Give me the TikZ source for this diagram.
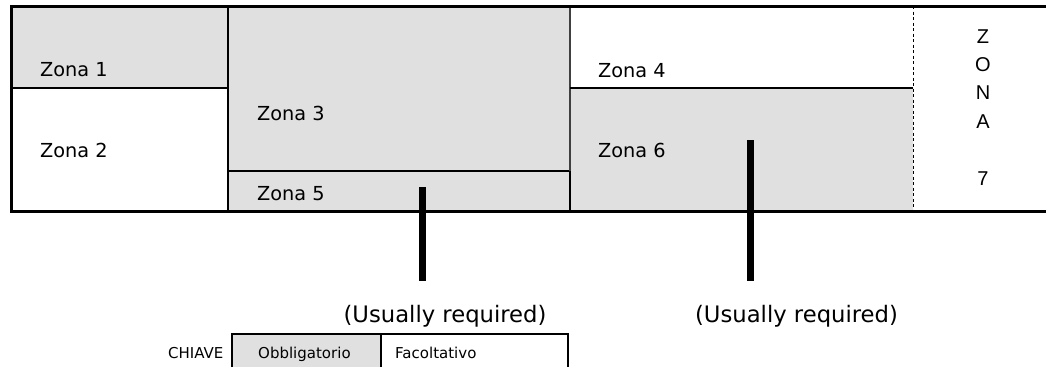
\documentclass[tikz,border=0pt]{standalone}
\usepackage{fontspec}
\newfontfamily\dvfont{DejaVu Sans}
\newfontfamily\lsfont{Liberation Sans}
\definecolor{zonegray}{RGB}{224,224,224}
\tikzset{
  thickline/.style={line width=3pt},
  midline/.style={line width=2pt},
  thinline/.style={line width=1.1pt, draw=black!75},
  zonelabel/.style={anchor=base west, inner sep=0pt, font=\dvfont\fontsize{19.3}{23}\selectfont},
  notelabel/.style={anchor=base, inner sep=0pt, font=\dvfont\fontsize{22.7}{27}\selectfont},
  keylabel/.style={anchor=base west, inner sep=0pt, font=\dvfont\fontsize{15}{17}\selectfont},
  bar/.style={line width=7pt},
}
\begin{document}
\begin{tikzpicture}[x=1pt,y=-1pt]
\useasboundingbox (0,0) rectangle (1046,367);
% fills
\fill[zonegray] (11,6) rectangle (228,88);
\fill[zonegray] (228,6) rectangle (570,171);
\fill[zonegray] (228,171) rectangle (570,211);
\fill[zonegray] (570,88) rectangle (913,211);
% inner lines
\draw[midline] (11,88) -- (228,88);
\draw[midline] (228,6) -- (228,211);
\draw[midline] (228,171) -- (570,171);
\draw[thinline] (570,6) -- (570,171);
\draw[midline] (570,171) -- (570,211);
\draw[midline] (570,88) -- (913,88);
\draw[line width=0.9pt, dash pattern=on 3pt off 2.5pt] (913,6) -- (913,211);
% frame
\draw[thickline] (1046,6) -- (11,6) -- (11,211) -- (1046,211);
% zone labels
\node[zonelabel] (z1) at (40,76) {Zona 1};
\node[zonelabel] (z2) at (40,157) {Zona 2};
\node[zonelabel] (z3) at (257,120) {Zona 3};
\node[zonelabel] (z5) at (257,200) {Zona 5};
\node[zonelabel] (z4) at (598,77) {Zona 4};
\node[zonelabel] (z6) at (598,157) {Zona 6};
\node[anchor=base, inner sep=0pt, align=center, font=\lsfont\fontsize{20}{28.4}\selectfont] (z7) at (983,185) {Z\\O\\N\\A\\\\7};
% bars and notes
\node[notelabel] (n1) at (445,322) {(Usually required)};
\node[notelabel] (n2) at (796.5,322) {(Usually required)};
\coordinate (b1top) at (422,187);
\coordinate (b1bot) at (422,281);
\coordinate (b2top) at (750,140);
\coordinate (b2bot) at (750,281);
\draw[bar] (b1top) -- (b1bot);
\draw[bar] (b2top) -- (b2bot);
% key
\fill[zonegray] (232,334) rectangle (381,367);
\draw[midline] (232,367) -- (232,334) -- (568,334) -- (568,367);
\draw[line width=1.5pt] (381,334) -- (381,367);
\node[keylabel] (k0) at (168,358) {CHIAVE};
\node[keylabel] (k1) at (258,358) {Obbligatorio};
\node[keylabel] (k2) at (395,358) {Facoltativo};
\end{tikzpicture}
\end{document}
